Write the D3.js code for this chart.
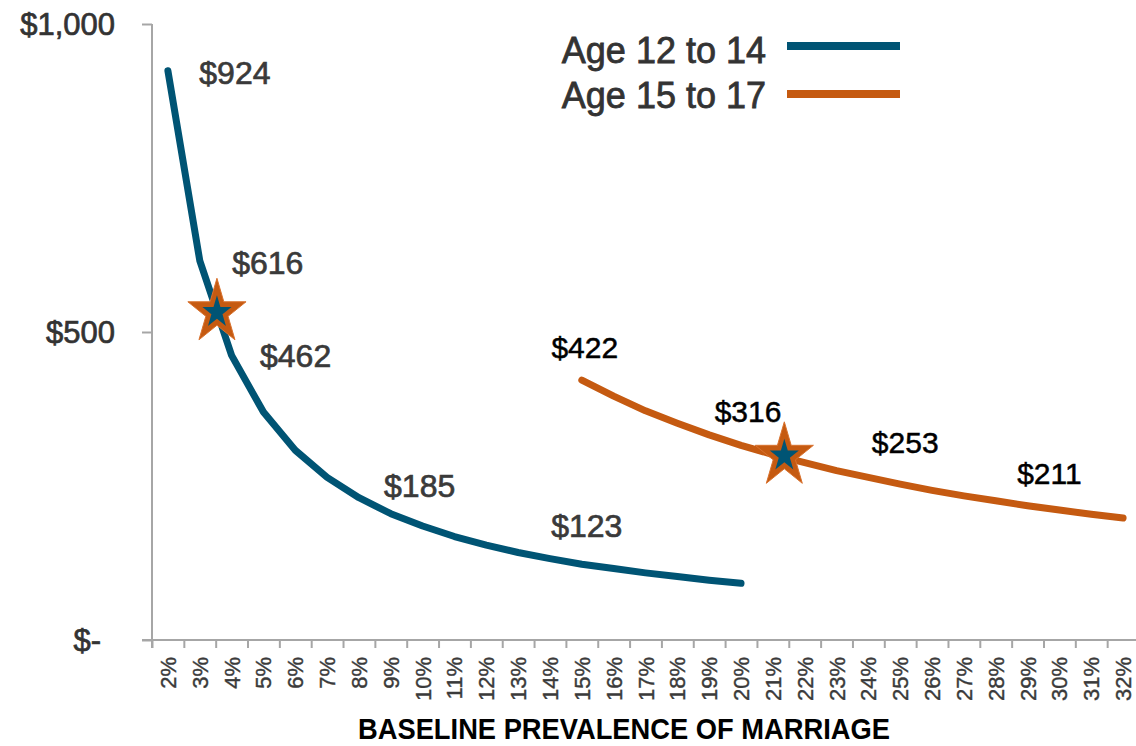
<!DOCTYPE html>
<html><head><meta charset="utf-8">
<script src="https://cdn.jsdelivr.net/npm/d3@7"></script>
<style>body{margin:0;background:#fff}svg{display:block}</style>
</head><body><svg id="c" width="1136" height="746"></svg>
<script>
// ---- data ----
const categories = [2,3,4,5,6,7,8,9,10,11,12,13,14,15,16,17,18,19,20,21,22,23,24,25,26,27,28,29,30,31,32];
const tickLabels = categories.map(p => p + "%");
const seriesNames = ["Age 12 to 14", "Age 15 to 17"];
const youngPrev = [2,3,4,5,6,7,8,9,10,11,12,13,14,15,16,17,18,19,20];
const youngCost = [924,616,462,370,308,264,231,205,185,168,154,142,132,123,116,109,103,97,92];
const oldPrev = [15,16,17,18,19,20,21,22,23,24,25,26,27,28,29,30,31,32];
const oldCost = [422,396,372,352,333,316,301,288,275,264,253,243,234,226,218,211,204,198];
const yTicks = [0, 500, 1000];
const yTickLabels = ["$-", "$500", "$1,000"];
const starPrev = [3.54, 21.36];
const starCost = [532, 299];
// labelled points: series index, prevalence
const labelSeries = [0,0,0,0,0,1,1,1,1];
const labelPrev = [2,3,4,10,15,15,20,25,30];
// label offsets (layout only): dx, dy from point
const labelDx = [67,68,64,-3,5,3,7,5,-10];
const labelDy = [13,13,12,-29,-27,-22,-23,-31,-26];

// ---- layout ----
const BLUE = "#005474", ORANGE = "#C55A11", AXIS = "#A6A6A6";
const FONT = "Liberation Sans, Arial, sans-serif";
const svg = d3.select("#c");
const x = d3.scaleLinear().domain([1.5, 32.5]).range([152, 1139]);
const y = d3.scaleLinear().domain([0, 1000]).range([640, 24]);

// x axis
const xAxis = d3.axisBottom(x)
  .tickValues(d3.range(1.5, 33, 1))
  .tickSize(8).tickFormat("");
const gx = svg.append("g").attr("transform", "translate(0,640)").call(xAxis);
gx.select(".domain").attr("stroke", AXIS).attr("stroke-width", 2).attr("d", "M142,0H1139");
gx.selectAll(".tick line").attr("stroke", AXIS).attr("stroke-width", 2);
svg.append("g").selectAll("text").data(categories).join("text")
  .attr("transform", d => `translate(${x(d) + 8},657) rotate(-90)`)
  .attr("text-anchor", "end")
  .attr("font-family", FONT)
  .attr("font-size", 22).attr("fill", "#3a3a3a")
  .attr("stroke", "#3a3a3a").attr("stroke-width", 0.4)
  .text((d, i) => tickLabels[i]);

// y axis
const yAxis = d3.axisLeft(y).tickValues(yTicks).tickSize(10).tickFormat("");
const gy = svg.append("g").attr("transform", "translate(152,0)").call(yAxis);
gy.select(".domain").attr("stroke", AXIS).attr("stroke-width", 2).attr("d", "M0,24V648");
gy.selectAll(".tick line").attr("stroke", AXIS).attr("stroke-width", 2);
svg.append("g").selectAll("text").data(yTicks).join("text")
  .attr("x", (d) => d === 0 ? 101 : 115)
  .attr("y", d => y(d) + 11)
  .attr("text-anchor", "end")
  .attr("font-family", FONT)
  .attr("font-size", 31).attr("fill", "#333")
  .attr("stroke", "#333").attr("stroke-width", 0.7)
  .text((d, i) => yTickLabels[i]);

// lines
const line = d3.line().x(d => x(d[0])).y(d => y(d[1])).curve(d3.curveLinear);
const youngPts = youngPrev.map((p, i) => [p, youngCost[i]]);
const oldPts = oldPrev.map((p, i) => [p, oldCost[i]]);
svg.append("path").attr("d", line(youngPts)).attr("fill", "none")
  .attr("stroke", BLUE).attr("stroke-width", 7).attr("stroke-linecap", "round").attr("stroke-linejoin", "round");
svg.append("path").attr("d", line(oldPts)).attr("fill", "none")
  .attr("stroke", ORANGE).attr("stroke-width", 7).attr("stroke-linecap", "round").attr("stroke-linejoin", "round");

// stars
function starPath(R, sx, sy) {
  const pts = [];
  for (let k = 0; k < 10; k++) {
    const r = k % 2 === 0 ? R : R * 0.382;
    const a = -Math.PI / 2 + k * Math.PI / 5;
    pts.push([r * Math.cos(a) * sx, r * Math.sin(a) * sy]);
  }
  return "M" + pts.map(p => p[0].toFixed(2) + "," + p[1].toFixed(2)).join("L") + "Z";
}
const stars = svg.append("g").selectAll("g").data(starPrev).join("g")
  .attr("transform", (d, i) => `translate(${x(d)},${y(starCost[i])})`);
stars.append("path").attr("d", starPath(34, 0.9, 1)).attr("fill", ORANGE).attr("stroke", "#D9722E").attr("stroke-width", 1);
stars.append("path").attr("d", starPath(17, 0.9, 1)).attr("fill", BLUE);

// data labels
const seriesData = [[youngPrev, youngCost], [oldPrev, oldCost]];
svg.append("g").selectAll("text").data(labelPrev).join("text")
  .attr("x", (d, i) => x(d) + labelDx[i])
  .attr("y", (d, i) => {
    const s = seriesData[labelSeries[i]];
    return y(s[1][s[0].indexOf(d)]) + labelDy[i];
  })
  .attr("text-anchor", "middle")
  .attr("font-family", FONT)
  .attr("font-size", (d, i) => labelSeries[i] === 0 ? 32 : 30)
  .attr("fill", (d, i) => labelSeries[i] === 0 ? "#3a3a3a" : "#000")
  .attr("stroke", (d, i) => labelSeries[i] === 0 ? "#3a3a3a" : "#000")
  .attr("stroke-width", (d, i) => labelSeries[i] === 0 ? 0.7 : 0.5)
  .text((d, i) => {
    const s = seriesData[labelSeries[i]];
    return "$" + s[1][s[0].indexOf(d)];
  });

// legend
const legendColors = [BLUE, ORANGE];
const lg = svg.append("g").selectAll("g").data(seriesNames).join("g")
  .attr("transform", (d, i) => `translate(0,${46 + i * 48})`);
lg.append("line").attr("x1", 787).attr("x2", 900).attr("y1", 0).attr("y2", 0)
  .attr("stroke", (d, i) => legendColors[i]).attr("stroke-width", 8);
lg.append("text").attr("x", 766).attr("y", (d, i) => 17 - i * 3)
  .attr("text-anchor", "end")
  .attr("font-family", FONT)
  .attr("font-size", 36).attr("fill", "#333")
  .attr("stroke", "#333").attr("stroke-width", 0.8)
  .text(d => d);

// x axis title
svg.append("text").attr("x", 624).attr("y", 739)
  .attr("text-anchor", "middle")
  .attr("font-family", "Liberation Sans Narrow, Arial Narrow, Liberation Sans, sans-serif")
  .attr("font-weight", "bold").attr("font-size", 30).attr("fill", "#000")
  .attr("textLength", 532).attr("lengthAdjust", "spacingAndGlyphs")
  .text("BASELINE PREVALENCE OF MARRIAGE");
</script></body></html>
